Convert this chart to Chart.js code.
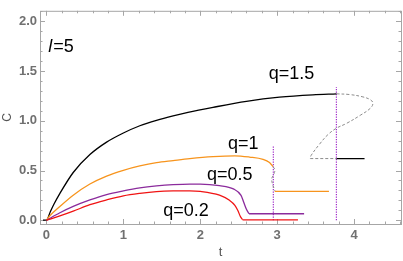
<!DOCTYPE html>
<html>
<head>
<meta charset="utf-8">
<script src="https://cdn.jsdelivr.net/npm/chart.js@4.4.1/dist/chart.umd.min.js"></script>
<style>
  html, body { margin: 0; padding: 0; background: #fff; }
  #wrap { width: 403px; height: 261px; }
</style>
</head>
<body>
<div id="wrap"><canvas id="chart" width="403" height="261"></canvas></div>
<script>
// Tick labels
const xTicks = [0, 1, 2, 3, 4];
const yTicks = [0, 0.5, 1, 1.5, 2];

// q = 1.5 (black)
const q15T = [-0.045, 0, 0.05, 0.1, 0.175, 0.348, 0.565, 0.782, 1.0, 1.214, 1.431, 1.647, 1.84, 2.166, 2.6, 3.03, 3.465, 3.77];
const q15C = [0, 0, 0.085, 0.165, 0.27, 0.48, 0.66, 0.785, 0.877, 0.95, 1.005, 1.05, 1.085, 1.135, 1.195, 1.237, 1.261, 1.271];
// q = 1.5 unstable branch (gray dashed) and lower branch
const q15ST = [3.77, 3.94, 4.115, 4.215, 4.245, 4.21, 4.08, 3.90, 3.77, 3.66, 3.55, 3.44, 3.43];
const q15SC = [1.271, 1.264, 1.24, 1.21, 1.175, 1.125, 1.055, 0.973, 0.925, 0.861, 0.764, 0.65, 0.62];
const q15DashFlatT = [3.43, 3.77];
const q15DashFlatC = [0.62, 0.62];
const q15FlatT = [3.77, 4.136];
const q15FlatC = [0.62, 0.62];

// q = 1 (orange)
const q1T = [0, 0.05, 0.175, 0.348, 0.565, 0.782, 1.0, 1.214, 1.431, 1.647, 1.864, 2.166, 2.45, 2.64, 2.816, 2.9, 2.945];
const q1C = [0, 0.05, 0.139, 0.252, 0.364, 0.444, 0.502, 0.546, 0.579, 0.6, 0.62, 0.64, 0.648, 0.635, 0.612, 0.58, 0.54];
const q1ST = [2.945, 2.97, 2.955, 2.93, 2.94, 2.965, 2.97];
const q1SC = [0.54, 0.505, 0.46, 0.42, 0.36, 0.31, 0.295];
const q1FlatT = [2.968, 3.673];
const q1FlatC = [0.29, 0.29];

// q = 0.5 (purple)
const q05T = [0, 0.175, 0.348, 0.565, 0.782, 1.0, 1.214, 1.431, 1.647, 1.864, 2.0, 2.25, 2.43, 2.53, 2.565, 2.6, 2.634];
const q05C = [0, 0.075, 0.139, 0.204, 0.258, 0.295, 0.325, 0.345, 0.358, 0.364, 0.364, 0.348, 0.315, 0.25, 0.18, 0.11, 0.066];
const q05FlatT = [2.634, 3.35];
const q05FlatC = [0.065, 0.065];

// q = 0.2 (red)
const q02T = [0, 0.175, 0.348, 0.565, 0.782, 1.0, 1.214, 1.431, 1.647, 1.864, 2.0, 2.25, 2.38, 2.45, 2.49, 2.52, 2.55];
const q02C = [0, 0.043, 0.091, 0.156, 0.204, 0.245, 0.27, 0.288, 0.295, 0.296, 0.29, 0.252, 0.2, 0.15, 0.095, 0.04, 0.005];
const q02FlatT = [2.55, 3.27];
const q02FlatC = [0.004, 0.004];

// vertical dotted markers
const mark1T = [2.95, 2.95];
const mark1C = [0, 0.75];
const mark2T = [3.77, 3.77];
const mark2C = [0, 1.34];

// curve labels (left edge, baseline)
const labelText = ['q=1.5', 'q=1', 'q=0.5', 'q=0.2'];
const labelT = [2.89, 2.361, 2.088, 1.517];
const labelC = [1.421, 0.712, 0.407, 0.044];

function pts(ts, cs) {
    return ts.map((t, i) => ({ x: t, y: cs[i] }));
}

function line(ts, cs, color, extra) {
    return Object.assign({
        data: pts(ts, cs),
        borderColor: color,
        borderWidth: 1.3,
        pointRadius: 0,
        cubicInterpolationMode: 'monotone',
        fill: false
    }, extra || {});
}

const ORANGE = '#f7941d';
const PURPLE = '#8b2b9c';
const RED = '#f01414';
const GRAY = '#8c8c8c';
const MARK = '#a02cc8';
const DASHED = { borderWidth: 1, borderDash: [3, 2], cubicInterpolationMode: 'default', tension: 0.4 };
const STRAIGHT = { cubicInterpolationMode: 'default', tension: 0 };
const DOTTED = { borderWidth: 1.2, borderDash: [1.2, 1.3], cubicInterpolationMode: 'default', tension: 0 };

// frame with inward ticks on all four sides
const framePlugin = {
    id: 'frame',
    beforeDatasetsDraw(chart) {
        const { ctx, chartArea: a, scales } = chart;
        const xs = scales.x, ys = scales.y;
        ctx.save();
        ctx.strokeStyle = '#a6a6a6';
        ctx.lineWidth = 1;
        ctx.strokeRect(a.left + 0.5, a.top + 0.5, a.right - a.left, a.bottom - a.top);
        ctx.beginPath();
        for (let i = -1; i <= 23; i++) {
            const v = i / 5;
            if (v < xs.min || v > xs.max) continue;
            const len = i % 5 === 0 ? 5 : 2.5;
            const px = Math.round(xs.getPixelForValue(v)) + 0.5;
            ctx.moveTo(px, a.bottom);
            ctx.lineTo(px, a.bottom - len);
            ctx.moveTo(px, a.top);
            ctx.lineTo(px, a.top + len);
        }
        for (let i = 0; i <= 21; i++) {
            const v = i / 10;
            if (v > ys.max) break;
            const len = i % 5 === 0 ? 5 : 2.5;
            const py = Math.round(ys.getPixelForValue(v)) + 0.5;
            ctx.moveTo(a.left, py);
            ctx.lineTo(a.left + len, py);
            ctx.moveTo(a.right, py);
            ctx.lineTo(a.right - len, py);
        }
        ctx.stroke();
        ctx.restore();
    },
    afterDatasetsDraw(chart) {
        const { ctx, scales } = chart;
        const xs = scales.x, ys = scales.y;
        ctx.save();
        ctx.fillStyle = '#000';
        ctx.textAlign = 'left';
        ctx.textBaseline = 'alphabetic';
        ctx.font = '18px "Liberation Sans", Arial, sans-serif';
        labelText.forEach((s, i) => {
            ctx.fillText(s, xs.getPixelForValue(labelT[i]), ys.getPixelForValue(labelC[i]));
        });
        // l=5 with italic l
        const lx = xs.getPixelForValue(0.023), ly = ys.getPixelForValue(1.694);
        ctx.font = 'italic 18px "Liberation Sans", Arial, sans-serif';
        ctx.fillText('l', lx, ly);
        const w = ctx.measureText('l').width;
        ctx.font = '18px "Liberation Sans", Arial, sans-serif';
        ctx.fillText('=5', lx + w + 1, ly);
        ctx.restore();
    }
};

new Chart(document.getElementById('chart'), {
    type: 'line',
    data: {
        datasets: [
            line(q02T, q02C, RED),
            line(q02FlatT, q02FlatC, RED, STRAIGHT),
            line(q05T, q05C, PURPLE),
            line(q05FlatT, q05FlatC, PURPLE, STRAIGHT),
            line(q1T, q1C, ORANGE),
            line(q1ST, q1SC, GRAY, DASHED),
            line(q1FlatT, q1FlatC, ORANGE, STRAIGHT),
            line(q15T, q15C, '#000'),
            line(q15ST, q15SC, GRAY, DASHED),
            line(q15DashFlatT, q15DashFlatC, GRAY, Object.assign({}, DASHED, { tension: 0 })),
            line(q15FlatT, q15FlatC, '#000', STRAIGHT),
            line(mark1T, mark1C, MARK, DOTTED),
            line(mark2T, mark2C, MARK, DOTTED)
        ]
    },
    options: {
        responsive: false,
        animation: false,
        devicePixelRatio: 1,
        layout: { padding: { top: 1, right: 2, left: 0, bottom: 0 } },
        plugins: {
            legend: { display: false },
            tooltip: { enabled: false }
        },
        scales: {
            x: {
                type: 'linear',
                min: -0.084,
                max: 4.61,
                afterFit(scale) { scale.height = 37; },
                afterBuildTicks(scale) { scale.ticks = xTicks.map(v => ({ value: v })); },
                grid: { display: false, drawTicks: false },
                border: { display: false },
                ticks: {
                    padding: 4,
                    color: '#707070',
                    font: { family: '"Liberation Sans", Arial, sans-serif', size: 13, weight: 'bold' },
                    callback: v => String(v)
                },
                title: {
                    display: true,
                    text: 't',
                    color: '#555',
                    padding: { top: 0, bottom: 1 },
                    font: { family: '"Liberation Sans", Arial, sans-serif', size: 13 }
                }
            },
            y: {
                type: 'linear',
                min: -0.038,
                max: 2.106,
                afterFit(scale) { scale.width = 40; },
                afterBuildTicks(scale) { scale.ticks = yTicks.map(v => ({ value: v })); },
                grid: { display: false, drawTicks: false },
                border: { display: false },
                ticks: {
                    padding: 3,
                    color: '#707070',
                    font: { family: '"Liberation Sans", Arial, sans-serif', size: 13, weight: 'bold' },
                    callback: v => v.toFixed(1)
                },
                title: {
                    display: true,
                    text: 'C',
                    color: '#555',
                    padding: { top: 0, bottom: 0 },
                    font: { family: '"Liberation Sans", Arial, sans-serif', size: 12 }
                }
            }
        }
    },
    plugins: [framePlugin]
});
</script>
</body>
</html>
